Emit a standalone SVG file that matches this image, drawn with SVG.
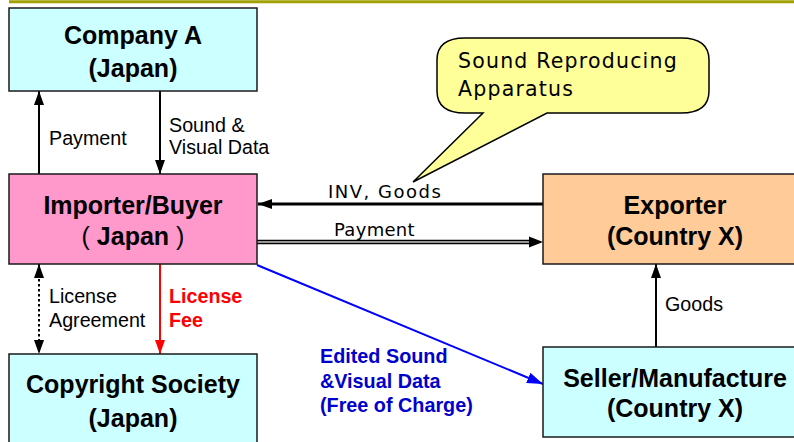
<svg xmlns="http://www.w3.org/2000/svg" width="794" height="442" viewBox="0 0 794 442">
<style>
.box{stroke:#1a1a1a;stroke-width:1.5}
.bt{font-family:"Liberation Sans",Arial,sans-serif;font-weight:bold;font-size:25px;fill:#000;text-anchor:middle}
.lb{font-family:"Liberation Sans",Arial,sans-serif;font-size:19.7px;fill:#000}
.tl{font-family:"DejaVu Sans",Verdana,sans-serif;font-size:18px;fill:#000}
.cn{fill:none;stroke:#000;stroke-width:2}
</style>
<defs>
<marker id="ah" markerUnits="userSpaceOnUse" viewBox="0 0 14 10" refX="14" refY="5" markerWidth="14" markerHeight="10" orient="auto-start-reverse"><path d="M0,0 L14,5 L0,10 Z" fill="#000"/></marker>
<marker id="ahr" markerUnits="userSpaceOnUse" viewBox="0 0 14 10" refX="14" refY="5" markerWidth="14" markerHeight="10" orient="auto"><path d="M0,0 L14,5 L0,10 Z" fill="#FF0000"/></marker>
<marker id="ahb" markerUnits="userSpaceOnUse" viewBox="0 0 16 11" refX="16" refY="5.5" markerWidth="16" markerHeight="11" orient="auto"><path d="M0,0 L16,5.5 L0,11 Z" fill="#0000FF"/></marker>
</defs>
<rect width="794" height="442" fill="#fff"/>
<line x1="9" y1="1.8" x2="794" y2="1.8" stroke="#A0A000" stroke-width="3"/>

<g id="connectors">
<line class="cn" x1="39" y1="174" x2="39" y2="91" marker-end="url(#ah)"/>
<line class="cn" x1="160" y1="91" x2="160" y2="174" marker-end="url(#ah)"/>
<line class="cn" x1="39" y1="264" x2="39" y2="354" stroke-dasharray="2.5,2.5" marker-start="url(#ah)" marker-end="url(#ah)"/>
<line x1="160" y1="264" x2="160" y2="354" stroke="#FF0000" stroke-width="2" marker-end="url(#ahr)"/>
<line x1="543" y1="204" x2="258" y2="204" stroke="#000" stroke-width="3" marker-end="url(#ah)"/>
<line x1="257" y1="242" x2="532" y2="242" stroke="#000" stroke-width="4.5"/>
<line x1="257" y1="242" x2="532" y2="242" stroke="#c8c8c8" stroke-width="1.6"/>
<path d="M529,236.5 L543,242 L529,247.5 Z" fill="#000"/>
<line x1="257" y1="265" x2="543" y2="384" stroke="#0000FF" stroke-width="2" marker-end="url(#ahb)"/>
<line class="cn" x1="656" y1="347" x2="656" y2="264" marker-end="url(#ah)"/>
<text class="lb" x="49" y="145">Payment</text>
<text class="lb" x="169" y="132">Sound &amp;</text>
<text class="lb" x="169" y="154">Visual Data</text>
<text class="lb" x="49" y="303">License</text>
<text class="lb" x="49" y="327">Agreement</text>
<text x="169" y="303" font-family="Liberation Sans,Arial,sans-serif" font-weight="bold" font-size="19.7" fill="#FF0000">License</text>
<text x="169" y="327" font-family="Liberation Sans,Arial,sans-serif" font-weight="bold" font-size="19.7" fill="#FF0000">Fee</text>
<text class="tl" x="328" y="198" letter-spacing="1.5">INV, Goods</text>
<text class="tl" x="334" y="236" letter-spacing="0.3">Payment</text>
<g font-family="Liberation Sans,Arial,sans-serif" font-weight="bold" font-size="19.8" fill="#0000CC">
<text x="320" y="363">Edited Sound</text>
<text x="320" y="388">&amp;Visual Data</text>
<text x="320" y="412">(Free of Charge)</text>
</g>
<text class="lb" x="665" y="311">Goods</text>
</g>

<g id="callout">
<path d="M465,38 H681 Q709,38 709,60 V91 Q709,113 681,113 H547 L413,182 L483,113 H465 Q437,113 437,91 V60 Q437,38 465,38 Z" fill="#FFFF99" stroke="#000" stroke-width="1.5"/>
<text x="458" y="68" font-family="DejaVu Sans,Verdana,sans-serif" font-size="20.5" letter-spacing="1.2" fill="#000">Sound Reproducing</text>
<text x="458" y="96" font-family="DejaVu Sans,Verdana,sans-serif" font-size="20.5" letter-spacing="1.2" fill="#000">Apparatus</text>
</g>

<g id="company-a">
<rect class="box" x="9" y="8" width="248" height="83" fill="#CCFFFF"/>
<text class="bt" x="133" y="44">Company A</text>
<text class="bt" x="133" y="77">(Japan)</text>
</g>
<g id="importer">
<rect class="box" x="9" y="174" width="248" height="90" fill="#FF99CC"/>
<text class="bt" x="133" y="214">Importer/Buyer</text>
<text class="bt" x="133" y="245"><tspan font-weight="normal">(</tspan> Japan <tspan font-weight="normal">)</tspan></text>
</g>
<g id="copyright">
<rect class="box" x="9" y="354" width="248" height="100" fill="#CCFFFF"/>
<text class="bt" x="133" y="393">Copyright Society</text>
<text class="bt" x="133" y="427">(Japan)</text>
</g>
<g id="exporter">
<rect class="box" x="543" y="174" width="264" height="90" fill="#FFCC99"/>
<text class="bt" x="675" y="214">Exporter</text>
<text class="bt" x="675" y="245">(Country X)</text>
</g>
<g id="seller">
<rect class="box" x="543" y="347" width="264" height="90" fill="#CCFFFF"/>
<text class="bt" x="675" y="387">Seller/Manufacture</text>
<text class="bt" x="675" y="417">(Country X)</text>
</g>
</svg>
